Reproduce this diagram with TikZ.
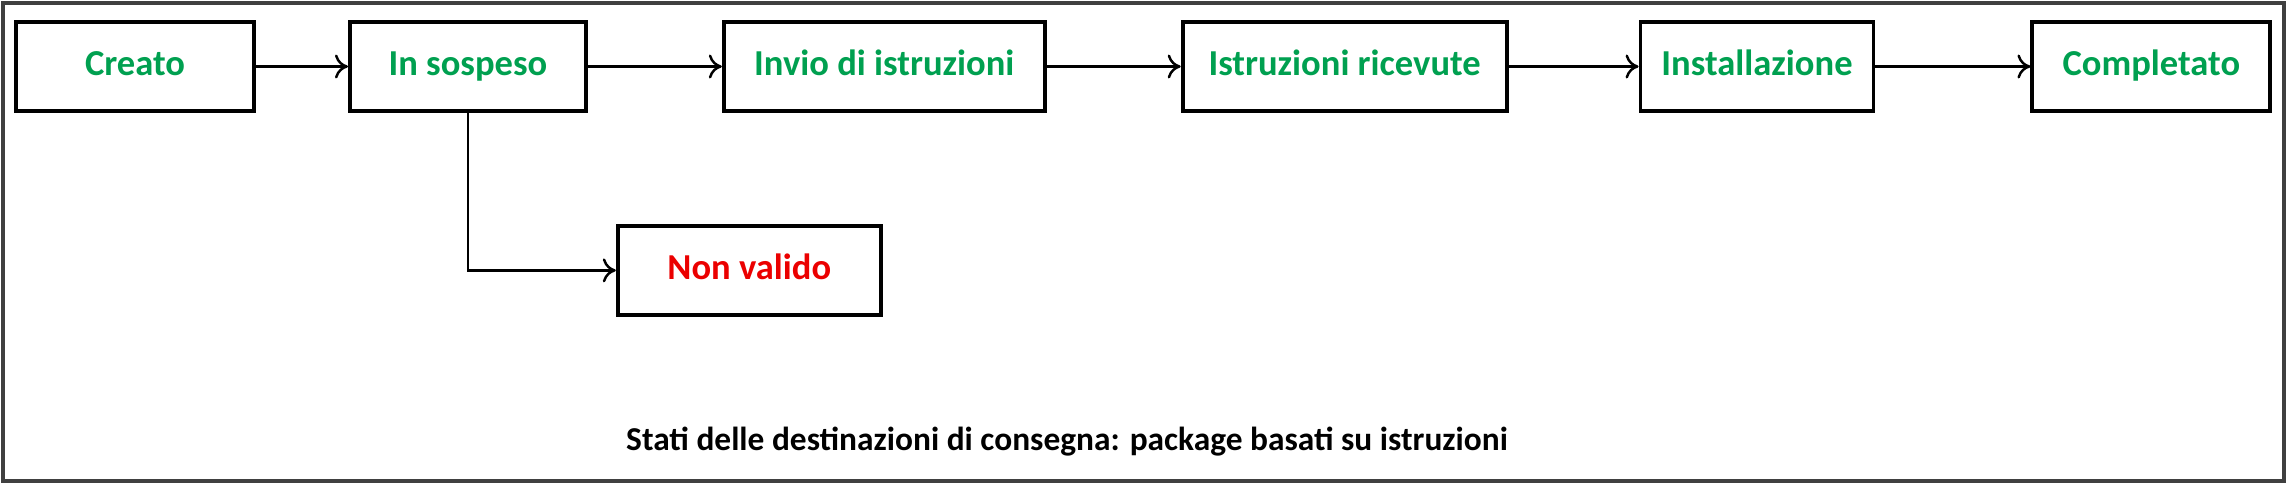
\documentclass[tikz,border=0pt]{standalone}
\usepackage{fontspec}
\setmainfont{Carlito}
\usetikzlibrary{arrows.meta,positioning}
\definecolor{okgreen}{RGB}{0,160,80}
\definecolor{badred}{RGB}{235,0,0}

\begin{document}
\begin{tikzpicture}[
  font=\bfseries\fontsize{10.4}{12}\selectfont,
  state/.style ={draw, line width=1.1pt, minimum height=8.9mm, align=center, inner sep=2pt,
                 text height=1.55ex, text depth=0.45ex, text=okgreen},
  ar/.style    ={-{To[length=1.3mm,width=2.4mm]}, line width=0.7pt},
  caption/.style={font=\bfseries\fontsize{9.5}{11}\selectfont, inner sep=1pt},
]
\useasboundingbox (0,0) rectangle (22.87,-4.84);
\draw[line width=1.2pt, black!75] (0.03,-0.03) rectangle (22.84,-4.81);

% --- main chain ---
\node[state, minimum width=23.8mm] (creato) at (1.35,-0.665) {Creato};
\node[state, minimum width=23.6mm, right=9.2mm of creato] (sosp) {In sospeso};
\node[state, minimum width=32.1mm, right=13.4mm of sosp] (invio) {Invio di istruzioni};
\node[state, minimum width=32.4mm, right=13.4mm of invio] (ricev) {Istruzioni ricevute};
\node[state, minimum width=23.3mm, right=13.0mm of ricev] (install) {Installazione};
\node[state, minimum width=23.8mm, right=15.5mm of install] (compl) {Completato};

% --- branch ---
\node[state, text=badred, minimum width=26.3mm, below right=11.1mm and 2.8mm of sosp] (nonval) {Non valido};

% --- edges ---
\draw[ar] (creato) -- (sosp);   \draw[ar] (sosp) -- (invio);
\draw[ar] (invio) -- (ricev);   \draw[ar] (ricev) -- (install);
\draw[ar] (install) -- (compl);
\draw[ar] (sosp.south) |- (nonval.west);

% --- caption ---
\node[caption] (titolo) at (10.67,-4.42) {Stati delle destinazioni di consegna: package basati su istruzioni};
\end{tikzpicture}
\end{document}
